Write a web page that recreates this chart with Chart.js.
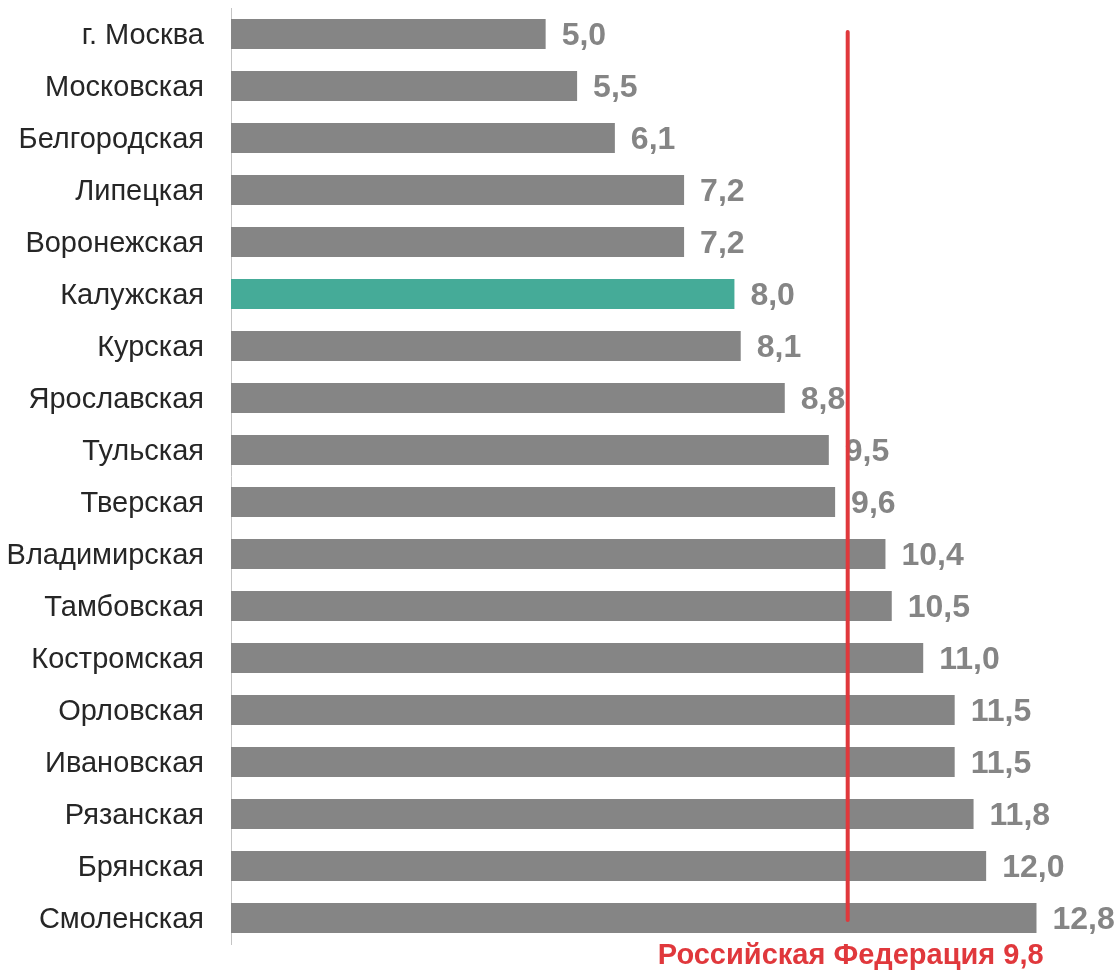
<!DOCTYPE html>
<html>
<head>
<meta charset="utf-8">
<script src="https://cdn.jsdelivr.net/npm/chart.js@4/dist/chart.umd.min.js"></script>
<style>
  html, body { margin: 0; padding: 0; background: #fff; }
  #wrap { width: 1119px; height: 970px; }
</style>
</head>
<body>
<div id="wrap"><canvas id="regionChart"></canvas></div>
<script>
const regions = ['г. Москва', 'Московская', 'Белгородская', 'Липецкая', 'Воронежская', 'Калужская',
  'Курская', 'Ярославская', 'Тульская', 'Тверская', 'Владимирская', 'Тамбовская',
  'Костромская', 'Орловская', 'Ивановская', 'Рязанская', 'Брянская', 'Смоленская'];
const values = [5.0, 5.5, 6.1, 7.2, 7.2, 8.0, 8.1, 8.8, 9.5, 9.6, 10.4, 10.5, 11.0, 11.5, 11.5, 11.8, 12.0, 12.8];
const highlightRegion = 'Калужская';
const russiaLabel = 'Российская Федерация';
const russiaValue = 9.8;

const greyBar = '#858585';
const tealBar = '#45ab98';
const redLine = '#e0383c';

function fmt(v) {
  return v.toFixed(1).replace('.', ',');
}

// подписи значений справа от столбцов + линия по РФ
const extrasPlugin = {
  id: 'extras',
  afterDatasetsDraw(chart) {
    const ctx = chart.ctx;
    const meta = chart.getDatasetMeta(0);
    ctx.save();
    ctx.font = 'bold 32px "Liberation Sans", Arial, sans-serif';
    ctx.fillStyle = greyBar;
    ctx.textAlign = 'left';
    ctx.textBaseline = 'middle';
    meta.data.forEach((bar, i) => {
      ctx.fillText(fmt(values[i]), bar.x + 16, bar.y + 2);
    });

    const xs = chart.scales.x;
    const ys = chart.scales.y;
    const lx = xs.getPixelForValue(russiaValue);
    ctx.strokeStyle = redLine;
    ctx.lineWidth = 4;
    ctx.lineCap = 'round';
    ctx.beginPath();
    ctx.moveTo(lx, ys.getPixelForValue(0) - 2);
    ctx.lineTo(lx, ys.getPixelForValue(regions.length - 1) + 2);
    ctx.stroke();

    ctx.font = 'bold 29px "Liberation Sans", Arial, sans-serif';
    ctx.fillStyle = redLine;
    ctx.textAlign = 'center';
    ctx.fillText(russiaLabel + ' ' + fmt(russiaValue), lx + 3, 956);
    ctx.restore();
  }
};

const ctx = document.getElementById('regionChart').getContext('2d');
new Chart(ctx, {
  type: 'bar',
  data: {
    labels: regions,
    datasets: [{
      data: values,
      backgroundColor: regions.map(r => r === highlightRegion ? tealBar : greyBar),
      borderWidth: 0,
      categoryPercentage: 1,
      barPercentage: 0.58
    }]
  },
  options: {
    indexAxis: 'y',
    responsive: true,
    maintainAspectRatio: false,
    animation: false,
    layout: { padding: { top: 8, bottom: 26, left: 0, right: 7 } },
    plugins: {
      legend: { display: false },
      tooltip: { enabled: false }
    },
    scales: {
      x: {
        display: false,
        min: 0,
        max: 14
      },
      y: {
        afterFit(scale) {
          scale.width = 231;
          scale.paddingTop = 0;
          scale.paddingBottom = 0;
        },
        grid: { display: false, drawTicks: false },
        border: { display: true, color: '#c4c4c4', width: 1 },
        ticks: {
          padding: 27,
          labelOffset: 2,
          color: '#262626',
          font: { family: '"Liberation Sans", Arial, sans-serif', size: 29 }
        }
      }
    }
  },
  plugins: [extrasPlugin]
});
</script>
</body>
</html>
